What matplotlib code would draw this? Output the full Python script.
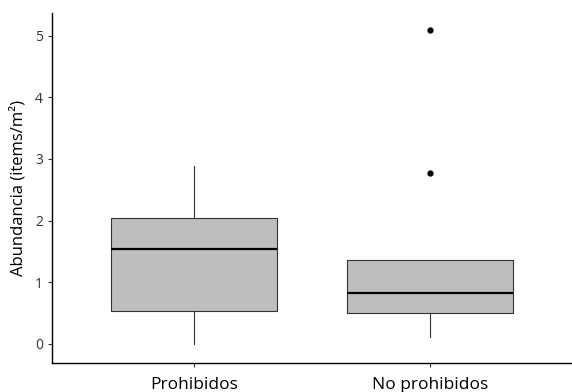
import matplotlib.pyplot as plt

plt.rcParams['font.family'] = ['Open Sans', 'DejaVu Sans']

categories = ['Prohibidos', 'No prohibidos']
whislo = [0.0, 0.11]
q1 = [0.54, 0.50]
med = [1.54, 0.83]
q3 = [2.05, 1.36]
whishi = [2.89, 1.36]
outliers = [[], [2.78, 5.10]]

stats = []
for i, name in enumerate(categories):
    stats.append({'label': name, 'whislo': whislo[i], 'q1': q1[i], 'med': med[i],
                  'q3': q3[i], 'whishi': whishi[i], 'fliers': outliers[i]})

fig = plt.figure(figsize=(5.72, 3.92), dpi=100)
ax = fig.add_axes([0.091, 0.074, 0.909, 0.893])

ax.bxp(stats, positions=[1, 2], widths=0.7, patch_artist=True, showcaps=False,
       boxprops=dict(facecolor='#BEBEBE', edgecolor='#333333', linewidth=0.8),
       medianprops=dict(color='black', linewidth=1.6),
       whiskerprops=dict(color='#333333', linewidth=0.8),
       flierprops=dict(marker='o', markerfacecolor='black', markeredgecolor='black',
                       markersize=3.5))

ax.set_xlim(0.4, 2.6)
ax.set_ylim(-0.31, 5.37)
ax.set_yticks([0, 1, 2, 3, 4, 5])
ax.set_ylabel('Abundancia (items/m²)', fontsize=12, color='black', labelpad=6)
for s in ['top', 'right']:
    ax.spines[s].set_visible(False)
for s in ['left', 'bottom']:
    ax.spines[s].set_linewidth(1.0)
ax.tick_params(axis='y', labelsize=10, labelcolor='#333333', length=3, color='#333333')
ax.tick_params(axis='x', labelsize=12.5, labelcolor='black', length=3, color='#333333', pad=7)

fig.savefig('out.png', dpi=100)
